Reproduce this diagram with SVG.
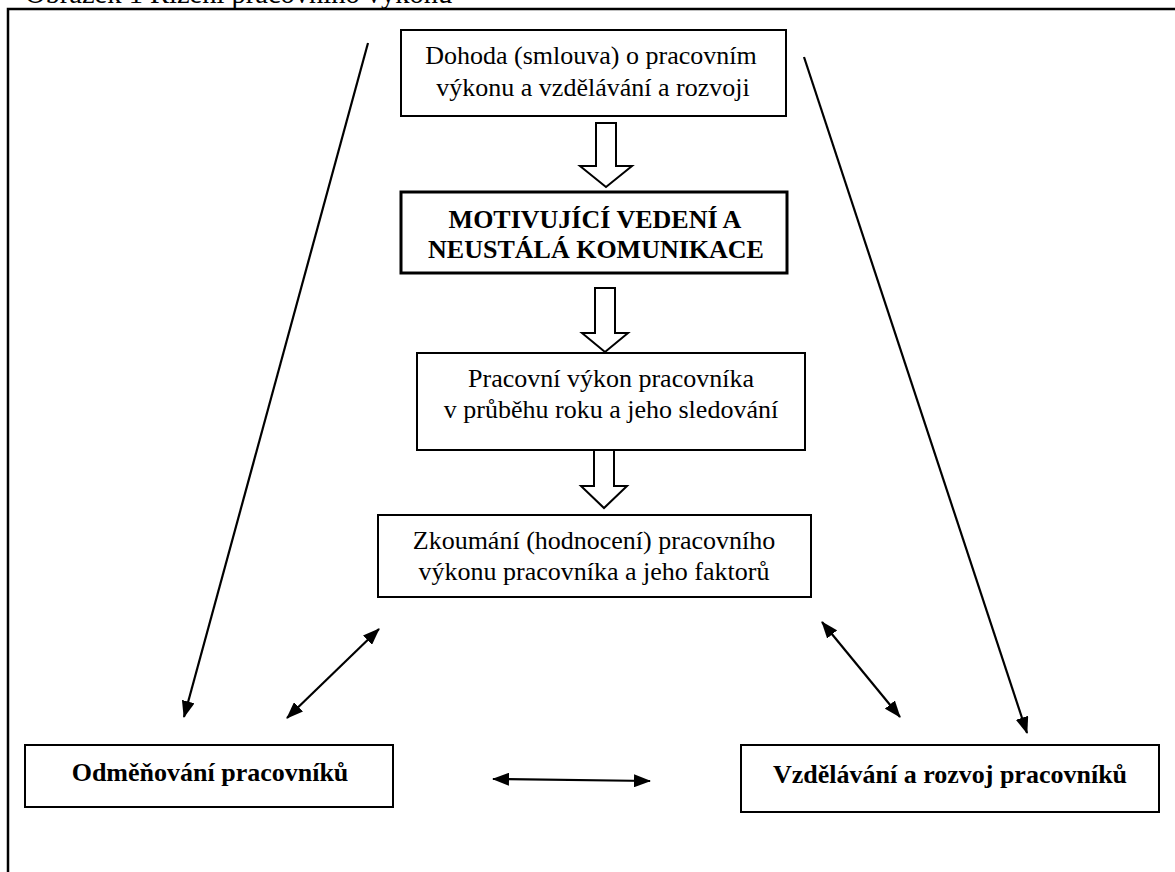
<svg xmlns="http://www.w3.org/2000/svg" width="1175" height="872" viewBox="0 0 1175 872">
<style>
  .box { fill: #fff; stroke: #000; stroke-width: 2; }
  .boxb { fill: #fff; stroke: #000; stroke-width: 3; }
  .t { font-family: "Liberation Serif", "Times New Roman", serif; font-size: 26px; fill: #000; text-anchor: middle; }
  .b { font-weight: bold; }
  .ln { stroke: #000; stroke-width: 2.2; fill: none; }
  .blk { fill: #fff; stroke: #000; stroke-width: 2; stroke-linejoin: miter; }
</style>
<defs>
  <marker id="ah" viewBox="0 0 17 13" refX="16" refY="6.5" markerWidth="17" markerHeight="13" markerUnits="userSpaceOnUse" orient="auto-start-reverse">
    <path d="M0,0 L17,6.5 L0,13 z" fill="#000"/>
  </marker>
</defs>
<rect width="1175" height="872" fill="#fff"/>
<text x="25" y="3" style="font-family:'Liberation Serif','Times New Roman',serif;font-size:28.5px;fill:#000">Obrázek 1 Řízení pracovního výkonu</text>
<rect x="8" y="9" width="1190" height="900" fill="none" stroke="#000" stroke-width="2.5"/>

<g id="connectors">
  <polygon class="blk" points="596,123 616,123 616,166 632,166 606,187 580,166 596,166"/>
  <polygon class="blk" points="595,288 615,288 615,333 628,333 605,352 582,333 595,333"/>
  <polygon class="blk" points="594,450 614,450 614,486 627,486 604,508 581,486 594,486"/>
  <line class="ln" x1="368" y1="43" x2="184" y2="717" marker-end="url(#ah)"/>
  <line class="ln" x1="804" y1="57" x2="1027" y2="733" marker-end="url(#ah)"/>
  <line class="ln" x1="379" y1="629" x2="287" y2="718" marker-start="url(#ah)" marker-end="url(#ah)"/>
  <line class="ln" x1="822" y1="622" x2="900" y2="717" marker-start="url(#ah)" marker-end="url(#ah)"/>
  <line class="ln" x1="493" y1="779" x2="650" y2="781" marker-start="url(#ah)" marker-end="url(#ah)"/>
</g>

<g id="dohoda">
  <rect class="box" x="401" y="30" width="385" height="86"/>
  <text class="t" x="591" y="64">Dohoda (smlouva) o pracovním</text>
  <text class="t" x="593" y="96">výkonu a vzdělávání a rozvoji</text>
</g>
<g id="motivujici">
  <rect class="boxb" x="401" y="192" width="386" height="81"/>
  <text class="t b" x="595" y="228">MOTIVUJÍCÍ VEDENÍ A</text>
  <text class="t b" x="596" y="258">NEUSTÁLÁ KOMUNIKACE</text>
</g>
<g id="vykon">
  <rect class="box" x="417" y="353" width="388" height="97"/>
  <text class="t" x="611" y="387">Pracovní výkon pracovníka</text>
  <text class="t" x="611" y="418">v průběhu roku a jeho sledování</text>
</g>
<g id="zkoumani">
  <rect class="box" x="378" y="515" width="433" height="82"/>
  <text class="t" x="594" y="549">Zkoumání (hodnocení) pracovního</text>
  <text class="t" x="594" y="580">výkonu pracovníka a jeho faktorů</text>
</g>
<g id="odmenovani">
  <rect class="box" x="25" y="745" width="368" height="62"/>
  <text class="t b" x="210" y="781">Odměňování pracovníků</text>
</g>
<g id="vzdelavani">
  <rect class="box" x="741" y="745" width="418" height="67"/>
  <text class="t b" x="950" y="783">Vzdělávání a rozvoj pracovníků</text>
</g>
</svg>
